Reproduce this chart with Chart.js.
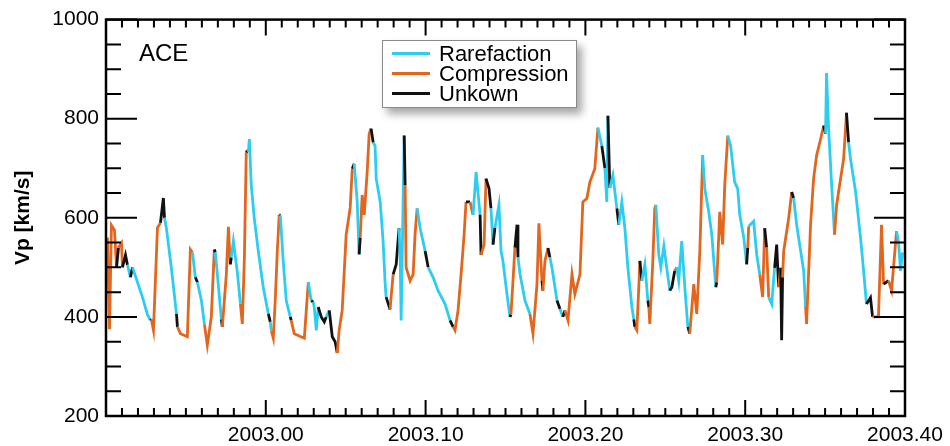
<!DOCTYPE html>
<html>
<head>
<meta charset="utf-8">
<script src="https://cdn.jsdelivr.net/npm/chart.js@4"></script>
<style>
  body { margin: 0; background: #fff; }
  #wrap { position: relative; width: 950px; height: 446px; }
  #legend {
    position: absolute; left: 382px; top: 40px;
    border: 1px solid #8a8a8a; background: #fff;
    box-shadow: 5px 6px 8px rgba(0,0,0,0.35);
    font: 22px 'Liberation Sans', Arial, sans-serif; line-height: 20px; color: #000;
    padding-top: 3px; box-sizing: border-box; height: 68px; width: 195px;
  }
  #legend div { position: relative; height: 20px; padding-left: 56px; white-space: nowrap; }
  #legend span { position: absolute; left: 9px; top: 8px; width: 38px; height: 3px; }
</style>
</head>
<body>
<div id="wrap">
  <canvas id="c" width="950" height="446"></canvas>
  <div id="legend">
    <div><span style="background:#2ccdf0"></span>Rarefaction</div>
    <div><span style="background:#e2661e"></span>Compression</div>
    <div><span style="background:#111"></span>Unkown</div>
  </div>
</div>
<script>
// ACE solar wind speed, coloured by stream type
var xTicks = [2003.0, 2003.1, 2003.2, 2003.3, 2003.4];
var yTicks = [200, 400, 600, 800, 1000];

var years = [
  2002.9009, 2002.9022, 2002.9034, 2002.9053, 2002.9066, 2002.9078, 2002.9097, 2002.9103, 2002.9122, 2002.9134,
  2002.9153, 2002.9166, 2002.9197, 2002.9228, 2002.9259, 2002.9278, 2002.9284, 2002.9297, 2002.9322, 2002.9341,
  2002.9359, 2002.9366, 2002.9378, 2002.9409, 2002.9441, 2002.9447, 2002.9466, 2002.9509, 2002.9528, 2002.9541,
  2002.9559, 2002.9572, 2002.9597, 2002.9616, 2002.9634, 2002.9659, 2002.9678, 2002.9684, 2002.9697, 2002.9722,
  2002.9728, 2002.9753, 2002.9766, 2002.9778, 2002.9784, 2002.9797, 2002.9822, 2002.9841, 2002.9853, 2002.9866,
  2002.9878, 2002.9891, 2002.9897, 2002.9909, 2002.9928, 2002.9953, 2002.9984, 2003.0016, 2003.0028, 2003.0034,
  2003.0047, 2003.0059, 2003.0072, 2003.0084, 2003.0091, 2003.0109, 2003.0128, 2003.0153, 2003.0159, 2003.0178,
  2003.0241, 2003.0266, 2003.0284, 2003.0297, 2003.0303, 2003.0316, 2003.0328, 2003.0347, 2003.0366, 2003.0378,
  2003.0397, 2003.0416, 2003.0434, 2003.0447, 2003.0459, 2003.0478, 2003.0503, 2003.0528, 2003.0541, 2003.0553,
  2003.0572, 2003.0584, 2003.0591, 2003.0603, 2003.0616, 2003.0634, 2003.0647, 2003.0659, 2003.0672, 2003.0684,
  2003.0691, 2003.0716, 2003.0734, 2003.0747, 2003.0753, 2003.0778, 2003.0784, 2003.0797, 2003.0816, 2003.0834,
  2003.0841, 2003.0847, 2003.0866, 2003.0872, 2003.0878, 2003.0903, 2003.0922, 2003.0934, 2003.0947, 2003.0966,
  2003.0997, 2003.1016, 2003.1047, 2003.1078, 2003.1122, 2003.1153, 2003.1172, 2003.1184, 2003.1203, 2003.1222,
  2003.1241, 2003.1253, 2003.1278, 2003.1297, 2003.1316, 2003.1341, 2003.1347, 2003.1366, 2003.1378, 2003.1397,
  2003.1409, 2003.1422, 2003.1434, 2003.1459, 2003.1472, 2003.1484, 2003.1509, 2003.1528, 2003.1534, 2003.1547,
  2003.1559, 2003.1572, 2003.1578, 2003.1591, 2003.1622, 2003.1653, 2003.1672, 2003.1697, 2003.1709, 2003.1728,
  2003.1734, 2003.1747, 2003.1766, 2003.1778, 2003.1791, 2003.1822, 2003.1841, 2003.1859, 2003.1872, 2003.1891,
  2003.1916, 2003.1934, 2003.1966, 2003.1984, 2003.2009, 2003.2028, 2003.2059, 2003.2078, 2003.2103, 2003.2122,
  2003.2134, 2003.2141, 2003.2153, 2003.2172, 2003.2197, 2003.2209, 2003.2228, 2003.2247, 2003.2266, 2003.2291,
  2003.2303, 2003.2309, 2003.2322, 2003.2334, 2003.2341, 2003.2353, 2003.2372, 2003.2391, 2003.2397, 2003.2403,
  2003.2422, 2003.2434, 2003.2441, 2003.2459, 2003.2472, 2003.2491, 2003.2509, 2003.2528, 2003.2541, 2003.2559,
  2003.2572, 2003.2584, 2003.2603, 2003.2622, 2003.2641, 2003.2653, 2003.2678, 2003.2697, 2003.2716, 2003.2734,
  2003.2747, 2003.2772, 2003.2791, 2003.2816, 2003.2822, 2003.2841, 2003.2859, 2003.2872, 2003.2891, 2003.2909,
  2003.2934, 2003.2953, 2003.2966, 2003.2991, 2003.3009, 2003.3016, 2003.3022, 2003.3053, 2003.3072, 2003.3091,
  2003.3109, 2003.3122, 2003.3134, 2003.3147, 2003.3166, 2003.3184, 2003.3197, 2003.3209, 2003.3222, 2003.3228,
  2003.3234, 2003.3241, 2003.3272, 2003.3291, 2003.3303, 2003.3322, 2003.3347, 2003.3366, 2003.3378, 2003.3384,
  2003.3409, 2003.3428, 2003.3447, 2003.3472, 2003.3491, 2003.3503, 2003.3509, 2003.3522, 2003.3541, 2003.3559,
  2003.3572, 2003.3597, 2003.3616, 2003.3634, 2003.3647, 2003.3659, 2003.3691, 2003.3722, 2003.3741, 2003.3759,
  2003.3784, 2003.3797, 2003.3834, 2003.3853, 2003.3866, 2003.3897, 2003.3916, 2003.3947, 2003.3959, 2003.3972, 2003.3984
];

var speeds = [
  560, 375, 585, 575, 500, 540, 549, 500, 525, 505,
  480, 500, 470, 440, 405, 393, 395, 373, 580, 590,
  640, 600, 579, 499, 406, 380, 366, 360, 536, 530,
  480, 470, 433, 385, 343, 400, 536, 530, 486, 395,
  380, 486, 582, 506, 520, 553, 490, 427, 386, 520,
  736, 733, 759, 666, 599, 533, 460, 406, 390, 373,
  357, 433, 533, 606, 605, 513, 433, 400, 393, 366,
  357, 470, 433, 430, 420, 373, 420, 400, 390, 400,
  413, 360, 350, 327, 373, 413, 566, 620, 699, 709,
  633, 526, 560, 646, 606, 690, 770, 780, 752, 745,
  679, 632, 553, 466, 440, 415, 440, 486, 506, 579,
  519, 393, 766, 666, 500, 473, 486, 566, 619, 579,
  533, 500, 480, 453, 426, 393, 380, 373, 413, 486,
  566, 632, 632, 606, 692, 606, 525, 546, 679, 659,
  619, 546, 580, 626, 533, 513, 446, 400, 405, 473,
  540, 586, 520, 486, 433, 406, 366, 466, 589, 473,
  453, 513, 539, 520, 499, 433, 416, 400, 413, 393,
  486, 446, 486, 632, 639, 672, 699, 782, 745, 700,
  632, 806, 660, 686, 619, 586, 632, 579, 499, 420,
  395, 380, 373, 460, 513, 473, 506, 433, 420, 386,
  513, 619, 626, 526, 500, 543, 499, 453, 460, 493,
  500, 473, 553, 460, 380, 366, 466, 406, 533, 726,
  659, 612, 566, 460, 470, 612, 546, 666, 766, 745,
  672, 659, 606, 560, 506, 540, 583, 593, 526, 486,
  440, 579, 540, 440, 426, 499, 546, 460, 499, 353,
  480, 533, 599, 652, 640, 586, 533, 493, 420, 386,
  586, 679, 726, 759, 786, 770, 892, 779, 666, 566,
  626, 679, 719, 812, 752, 719, 652, 559, 493, 426,
  439, 400, 400, 586, 466, 473, 453, 573, 553, 493, 530
];

// R = rarefaction, C = compression, U = unknown (type of the segment starting at each point)
var kinds = (
  'CCCCUCCUUR' + 'URRRRUCCCU' + 'URRRUCCCCR' + 'URRCCCURRU' + 'CCCURRRCCC' +
  'URRRRRRURC' + 'CCCURRRUCC' + 'CRURRRUUUR' + 'UUUCCCCCUR' + 'RUCCCCCURR' +
  'RRRRUCCUUR' + 'RRUCCCCCRR' + 'URRRRUCCCC' + 'CUCRRUCCUU' + 'RURRRRRUCC' +
  'UURRRCCCCU' + 'CCURRURUCC' + 'CCCCCCCRUR' + 'RURRURRRRR' + 'UCCCURRUCC' +
  'CCRRRRRUUC' + 'RRRRUCCCCR' + 'RRRUCCCCRR' + 'RRRRUCRRRC' + 'CUCRRUUCUU' +
  'CCCURRRRCC' + 'CCCCURRRRC' + 'CCCURRRRRU' + 'UCCCUCCRRRR'
).split('');

var colours = { R: '#2ccdf0', C: '#e2661e', U: '#111111' };

var points = [];
for (let i = 0; i < years.length; i++) {
  points.push({ x: years[i], y: speeds[i] });
}

var font = { family: "'Liberation Sans', Arial, sans-serif", size: 21 };

// box + inward ticks on all four sides, and the ACE label
var frame = {
  id: 'frame',
  afterDatasetsDraw: function (chart) {
    var ctx = chart.ctx, a = chart.chartArea, x = chart.scales.x, y = chart.scales.y;
    ctx.save();
    ctx.strokeStyle = '#000';
    ctx.lineWidth = 2;
    ctx.beginPath();
    for (let v = 200; v <= 1000; v += 50) {
      let py = y.getPixelForValue(v);
      let len = v % 200 === 0 ? 31 : 15;
      ctx.moveTo(a.left, py); ctx.lineTo(a.left + len, py);
      ctx.moveTo(a.right, py); ctx.lineTo(a.right - len, py);
    }
    for (let i = 0; i <= 50; i++) {
      let px = x.getPixelForValue(2002.9 + i / 100);
      let len = i % 10 === 0 ? 16 : 8;
      ctx.moveTo(px, a.bottom); ctx.lineTo(px, a.bottom - len);
      ctx.moveTo(px, a.top); ctx.lineTo(px, a.top + len);
    }
    ctx.stroke();
    ctx.lineWidth = 2.5;
    ctx.strokeRect(a.left, a.top, a.right - a.left, a.bottom - a.top);
    ctx.fillStyle = '#000';
    ctx.font = "24px 'Liberation Sans', Arial, sans-serif";
    ctx.textBaseline = 'alphabetic';
    ctx.fillText('ACE', a.left + 33, a.top + 41);
    ctx.restore();
  }
};

new Chart(document.getElementById('c'), {
  type: 'line',
  data: {
    datasets: [{
      data: points,
      borderWidth: 2.8,
      pointRadius: 0,
      tension: 0,
      segment: { borderColor: function (c) { return colours[kinds[c.p0DataIndex]]; } }
    }]
  },
  options: {
    responsive: false,
    animation: false,
    layout: { padding: { top: 16, right: 45, left: 0, bottom: 0 } },
    plugins: { legend: { display: false }, tooltip: { enabled: false } },
    scales: {
      x: {
        type: 'linear', min: 2002.9, max: 2003.4,
        afterBuildTicks: function (s) { s.ticks = xTicks.map(function (v) { return { value: v }; }); },
        ticks: { font: font, color: '#000', padding: 7, maxRotation: 0, autoSkip: false,
                 callback: function (v) { return v.toFixed(2); } },
        grid: { display: false, drawTicks: false },
        border: { display: false },
        afterFit: function (s) { s.height = 30; }
      },
      y: {
        min: 200, max: 1000,
        afterBuildTicks: function (s) { s.ticks = yTicks.map(function (v) { return { value: v }; }); },
        ticks: { font: font, color: '#000', padding: 7,
                 callback: function (v) { return String(v); } },
        grid: { display: false, drawTicks: false },
        border: { display: false },
        title: { display: true, text: 'Vp [km/s]', color: '#000', padding: { top: 11, bottom: 0 },
                 font: { family: "'Liberation Sans', Arial, sans-serif", size: 21, weight: 'bold' } },
        afterFit: function (s) { s.width = 106; }
      }
    }
  },
  plugins: [frame]
});
</script>
</body>
</html>
